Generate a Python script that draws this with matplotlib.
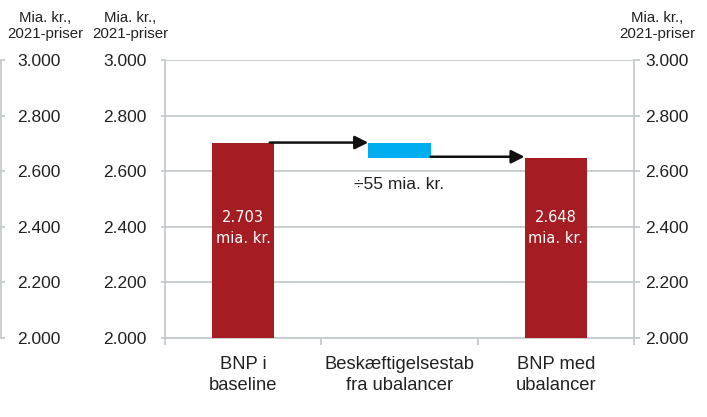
import numpy as np
import matplotlib.pyplot as plt

plt.rcParams['font.family'] = ['Liberation Sans', 'DejaVu Sans']

# BNP før og efter ubalancer (mia. kr., 2021-priser)
categories = ['BNP i\nbaseline', 'Beskæftigelsestab\nfra ubalancer', 'BNP med\nubalancer']
baseline = 2703
change = -55
result = baseline + change
yticks = [2000, 2200, 2400, 2600, 2800, 3000]
unit_label = 'Mia. kr.,\n2021-priser'

red = '#a51d22'
blue = '#00aeef'
grey = '#c5cacd'
txt = '#222222'

W, H = 707, 417
fig = plt.figure(figsize=(W / 100, H / 100), dpi=100)
bottom = 1 - 338 / H
height = (338 - 60) / H
ax = fig.add_axes([165 / W, bottom, (634 - 165) / W, height])

def fmt(v):
    return f'{v:,.0f}'.replace(',', '.')

ylim = (2000, 3000)
ax.set_ylim(*ylim)
ax.set_xlim(-0.5, 2.5)
ax.set_yticks(yticks)
ax.set_yticklabels([fmt(v) for v in yticks])
ax.yaxis.grid(True, color=grey, lw=1.3)
ax.set_axisbelow(True)
for s in ['left', 'right', 'bottom']:
    ax.spines[s].set_color(grey)
    ax.spines[s].set_linewidth(1.3)
ax.spines['top'].set_visible(False)
ax.tick_params(axis='y', length=3, width=1.3, color=grey, labelsize=12.5,
               labelcolor=txt, pad=10, left=True, right=True)

# kategorier på x-aksen, tick-streger ved grænserne
x = np.arange(len(categories))
ax.set_xticks(x)
ax.set_xticklabels(categories, fontsize=13.2, color=txt, linespacing=1.3)
ax.tick_params(axis='x', length=0, pad=13)
ax.set_xticks(np.arange(-0.5, len(categories)), minor=True)
ax.tick_params(axis='x', which='minor', length=5, width=1.3, color=grey)

# højre akse
axr = ax.twinx()
axr.set_ylim(*ylim)
axr.set_yticks(yticks)
axr.set_yticklabels([fmt(v) for v in yticks])
for s in axr.spines.values():
    s.set_visible(False)
axr.tick_params(axis='y', length=4.3, width=1.3, color=grey, labelsize=12.5,
                labelcolor=txt, pad=4)

# akse helt til venstre (afskåret nabofigur)
ax0 = fig.add_axes([1 / W, bottom, 0.0001, height])
ax0.set_ylim(*ylim)
ax0.set_xticks([])
ax0.set_yticks(yticks)
ax0.set_yticklabels([fmt(v) for v in yticks])
ax0.yaxis.tick_right()
for s in ['left', 'top', 'bottom']:
    ax0.spines[s].set_visible(False)
ax0.spines['right'].set_color(grey)
ax0.spines['right'].set_linewidth(1.3)
ax0.tick_params(axis='y', length=3, width=1.3, color=grey, labelsize=12.5,
                labelcolor=txt, pad=8.5)

# søjler
bw = 0.4
ax.bar(x[0], baseline - ylim[0], bottom=ylim[0], width=bw, color=red, zorder=3)
ax.bar(x[2], result - ylim[0], bottom=ylim[0], width=bw, color=red, zorder=3)
ax.bar(x[1], -change, bottom=result, width=bw, color=blue, zorder=3)

# pile mellem søjlerne
arrow = dict(arrowstyle='-|>', color='#111111', lw=1.8, mutation_scale=20,
             shrinkA=0, shrinkB=0)
ax.annotate('', xy=(x[1] - bw / 2, baseline), xytext=(x[0] + bw / 2 - 0.03, baseline),
            arrowprops=arrow, zorder=4)
ax.annotate('', xy=(x[2] - bw / 2, result + 4), xytext=(x[1] + bw / 2, result + 4),
            arrowprops=arrow, zorder=4)

ax.text(x[1], result - 95, '÷' + fmt(-change) + ' mia. kr.', ha='center', va='center',
        fontsize=12.5, color=txt)
for xi, v in [(x[0], baseline), (x[2], result)]:
    ax.text(xi, 2395, fmt(v) + '\nmia. kr.', ha='center', va='center', fontsize=10.5,
            color='white', family='DejaVu Sans', linespacing=1.45, zorder=5)

# enhedsetiketter
for xc in [45, 130, 657]:
    fig.text(xc / W, 1 - 26 / H, unit_label, ha='center', va='center', fontsize=10.8,
             color=txt, linespacing=1.25)

fig.savefig('out.png', dpi=100)
